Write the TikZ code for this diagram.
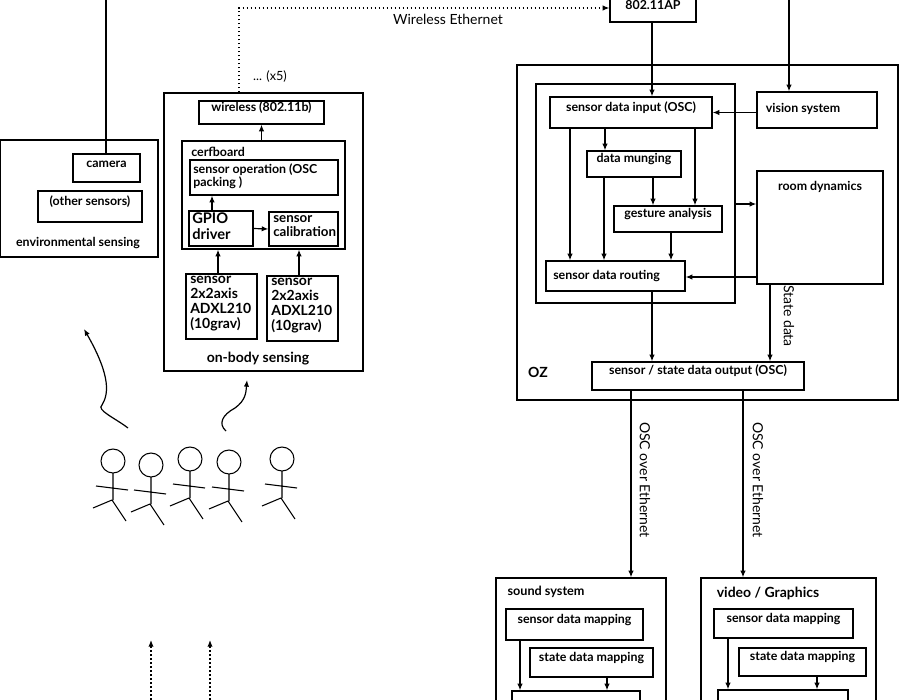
\documentclass[tikz,border=0pt]{standalone}
\usepackage{fontspec}
\setmainfont{Lato}
\usetikzlibrary{fit,arrows.meta}
\begin{document}
\begin{tikzpicture}[x=0.75pt,y=-0.75pt,
  box/.style={draw,line width=0.9pt,inner sep=0pt,font=\bfseries\fontsize{9.3}{10}\selectfont},
  big/.style={draw,line width=0.9pt,inner sep=0pt},
  lbl/.style={font=\bfseries\fontsize{9.3}{10}\selectfont,inner sep=0pt},
  arr/.style={line width=0.9pt,-{Latex[length=5pt,width=4pt]}},
  ln/.style={line width=0.9pt},
  dot/.style={line width=0.9pt,dash pattern=on 1.2pt off 1.8pt,-{Latex[length=5pt,width=4pt]}},
  thin/.style={font=\fontsize{9.5}{10}\selectfont,inner sep=0pt},
  fig/.pic={\draw[line width=0.8pt] (0,0) circle (12) (0,12)--(0,39) (-17,25)--(15,29) (-1,39)--(-20,47) (-1,39)--(13,60);}
]
\useasboundingbox (0,0) rectangle (900,700);
% environmental sensing
\node[big,fit={(0,140)(158,257)}] (env) {};
\node[box,fit={(73,154)(140,182)}] (cam) {camera};
\node[box,fit={(38,191)(142,222)}] (oth) {(other sensors)};
\node[lbl] (envl) at (78,243) {environmental sensing};
\coordinate (camtop) at (106,0);
\draw[ln] (camtop) -- (cam.north -| camtop);
% on-body
\node[big,fit={(164,93)(363,371)}] (body) {};
\node[box,fit={(199,101)(324,124)}] (wl) {wireless (802.11b)};
\node[big,fit={(182,141)(345,249)}] (cerf) {};
\node[lbl,anchor=west] (cerfl) at (191,152) {cerfboard};
\node[box,fit={(190,160)(338,195)}] (sop) {};
\node[lbl,anchor=north west,align=left] at (193,163) {sensor operation (OSC\\packing )};
\node[box,fit={(189,211)(253,246)}] (gpio) {};
\node[lbl,anchor=north west,align=left,font=\bfseries\fontsize{11}{12}\selectfont] at (192,213) {GPIO\\driver};
\node[box,fit={(269,212)(338,246)}] (cal) {};
\node[lbl,anchor=north west,align=left,font=\bfseries\fontsize{10}{11}\selectfont] at (273,215) {sensor\\calibration};
\node[box,fit={(186,274)(257,339)}] (s1) {};
\node[lbl,anchor=north west,align=left,font=\bfseries\fontsize{10.5}{11.2}\selectfont] at (190,276) {sensor\\2x2axis\\ADXL210\\(10grav)};
\node[box,fit={(267,276)(338,341)}] (s2) {};
\node[lbl,anchor=north west,align=left,font=\bfseries\fontsize{10.5}{11.2}\selectfont] at (271,278) {sensor\\2x2axis\\ADXL210\\(10grav)};
\node[lbl,font=\bfseries\fontsize{10.5}{11}\selectfont] (bodyl) at (258,359) {on-body sensing};
\draw[arr] (cerf.north -| wl) -- (wl.south);
\draw[arr] (212,211 |- gpio.north) -- (212,0 |- sop.south);
\draw[arr] (gpio.east) -- (cal.west);
\draw[arr] (s1.north -| 218,0) -- (218,0 |- cerf.south);
\draw[arr] (s2.north -| 299,0) -- (299,0 |- cerf.south);
\node[thin] (x5) at (270,77) {... (x5)};
% AP
\node[box,fit={(610,-5)(696,22)}] (ap) {\raisebox{-2pt}{802.11AP}};
\coordinate (wlup) at (239,8);
\draw[dot] (239,0 |- body.north) -- (wlup) -- (wlup -| ap.west);
\node[thin,font=\fontsize{10.5}{11}\selectfont] (we) at (448,19) {Wireless Ethernet};
% OZ
\node[big,fit={(517,65)(898,400)}] (oz) {};
\node[lbl,font=\bfseries\fontsize{10.5}{11}\selectfont] (ozl) at (538,372) {OZ};
\node[big,fit={(536,84)(735,303)}] (inner) {};
\node[box,fit={(550,97)(712,128)}] (in) {sensor data input (OSC)};
\node[box,fit={(757,92)(877,128)}] (vis) {};
\node[lbl] at (803,109) {vision system};
\node[box,fit={(587,151)(681,177)}] (mung) {data munging};
\node[box,fit={(614,206)(722,232)}] (ges) {gesture analysis};
\node[box,fit={(757,171)(883,284)}] (room) {};
\node[lbl] at (820,187) {room dynamics};
\node[box,fit={(546,261)(685,291)}] (rout) {};
\node[lbl,anchor=west] at (553,276) {sensor data routing};
\node[box,fit={(592,362)(804,390)}] (out) {sensor / state data output (OSC)};
\coordinate (vtop) at (789,0);
\draw[arr] (vtop) -- (vtop |- vis.north);
\draw[arr] (ap.south -| 652,0) -- (652,0 |- in.north);
\draw[arr] (vis.west |- in.east) -- (in.east);
\draw[arr] (570,0 |- in.south) -- (570,0 |- rout.north);
\draw[arr] (605,0 |- in.south) -- (605,0 |- mung.north);
\draw[arr] (695,0 |- in.south) -- (695,0 |- ges.north);
\draw[arr] (604,0 |- mung.south) -- (604,0 |- rout.north);
\draw[arr] (653,0 |- mung.south) -- (653,0 |- ges.north);
\draw[arr] (671,0 |- ges.south) -- (671,0 |- rout.north);
\draw[arr] (room.west |- 0,277) -- (rout.east |- 0,277);
\draw[arr] (inner.east |- 0,204) -- (room.west |- 0,204);
\draw[arr] (652,0 |- rout.south) -- (652,0 |- out.north);
\draw[arr] (770,0 |- room.south) -- (770,0 |- out.north);
\node[thin,rotate=-90,font=\fontsize{10.5}{11}\selectfont] (sd) at (789,316) {State data};
% sound / video
\node[big,fit={(496,578)(666,710)}] (snd) {};
\node[lbl,font=\bfseries\fontsize{9.5}{10}\selectfont] at (546,592) {sound system};
\node[box,fit={(506,609)(643,640)}] (sm1) {sensor data mapping};
\node[box,fit={(530,648)(653,677)}] (st1) {state data mapping};
\node[box,fit={(512,691)(640,710)}] (b1) {};
\draw[arr] (520,0 |- sm1.south) -- (520,0 |- b1.north);
\draw[arr] (607,0 |- st1.south) -- (607,0 |- b1.north);
\node[big,fit={(701,578)(876,710)}] (vid) {};
\node[lbl,font=\bfseries\fontsize{10.5}{11}\selectfont] at (768,593) {video / Graphics};
\node[box,fit={(714,609)(853,638)}] (sm2) {sensor data mapping};
\node[box,fit={(739,648)(866,676)}] (st2) {state data mapping};
\node[box,fit={(718,690)(848,710)}] (b2) {};
\draw[arr] (728,0 |- sm2.south) -- (728,0 |- b2.north);
\draw[arr] (817,0 |- st2.south) -- (817,0 |- b2.north);
\draw[arr] (631,0 |- out.south) -- (631,0 |- snd.north);
\draw[arr] (743,0 |- out.south) -- (743,0 |- vid.north);
\node[thin,rotate=-90,font=\fontsize{10.5}{11}\selectfont] (l1) at (645,480) {OSC over Ethernet};
\node[thin,rotate=-90,font=\fontsize{10.5}{11}\selectfont] (l2) at (758,480) {OSC over Ethernet};
% people
\pic at (113,461) {fig};
\pic at (151,465) {fig};
\pic at (190,459) {fig};
\pic at (229,462) {fig};
\pic at (282,459) {fig};
\coordinate (c1) at (128,428);
\coordinate (c2) at (84,329);
\draw[arr] (c1) .. controls (115,418) and (96,410) .. (102,405) .. controls (108,395) and (112,378) .. (c2);
\coordinate (c3) at (226,431);
\coordinate (c4) at (247,380);
\draw[arr] (c3) .. controls (218,424) and (222,415) .. (235,408) .. controls (246,400) and (246,392) .. (c4);
\coordinate (d1) at (151,700);
\coordinate (d2) at (210,700);
\draw[dot] (d1) -- (151,640);
\draw[dot] (d2) -- (210,640);
\end{tikzpicture}
\end{document}
